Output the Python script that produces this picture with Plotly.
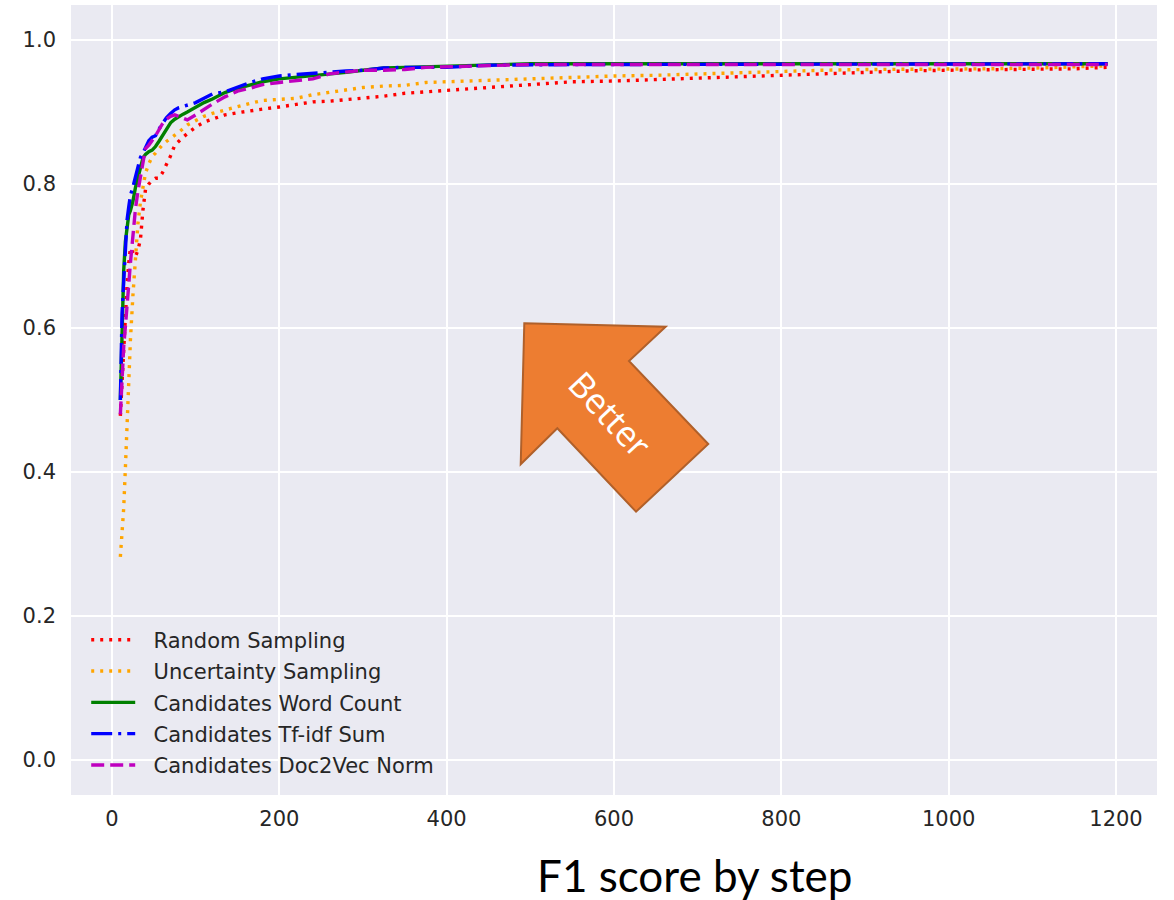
import plotly.graph_objects as go

# Labelling step (number of labelled documents) at which F1 was evaluated
steps = [10, 12, 14, 16, 18, 20, 22, 25, 28, 31, 34, 37, 40, 44, 48, 52, 56, 60, 65, 70,
         75, 80, 85, 90, 100, 110, 120, 135, 150, 165, 180, 200, 220, 240, 260, 280, 300,
         325, 350, 375, 400, 450, 500, 550, 600, 650, 700, 750, 800, 850, 900, 950, 1000,
         1050, 1100, 1150, 1190]

random_sampling = [0.478, 0.530, 0.580, 0.628, 0.660, 0.690, 0.711, 0.705, 0.699, 0.708,
                   0.723, 0.764, 0.792, 0.800, 0.805, 0.808, 0.808, 0.815, 0.826, 0.839,
                   0.854, 0.860, 0.865, 0.870, 0.879, 0.886, 0.890, 0.896, 0.899, 0.902,
                   0.904, 0.907, 0.910, 0.914, 0.915, 0.917, 0.920, 0.922, 0.926, 0.928,
                   0.931, 0.935, 0.939, 0.942, 0.943, 0.945, 0.947, 0.949, 0.951, 0.954,
                   0.956, 0.957, 0.958, 0.959, 0.959, 0.960, 0.962]

uncertainty_sampling = [0.282, 0.315, 0.350, 0.405, 0.470, 0.520, 0.583, 0.645, 0.700, 0.745,
                        0.775, 0.797, 0.815, 0.828, 0.838, 0.843, 0.849, 0.854, 0.859, 0.863,
                        0.867, 0.872, 0.877, 0.882, 0.888, 0.894, 0.898, 0.903, 0.907, 0.912,
                        0.916, 0.918, 0.919, 0.924, 0.927, 0.931, 0.934, 0.936, 0.937, 0.941,
                        0.942, 0.945, 0.947, 0.949, 0.950, 0.951, 0.953, 0.955, 0.956, 0.958,
                        0.959, 0.959, 0.959, 0.960, 0.961, 0.963, 0.964]

word_count = [0.500, 0.620, 0.680, 0.720, 0.742, 0.757, 0.763, 0.776, 0.795, 0.810,
              0.824, 0.836, 0.841, 0.845, 0.847, 0.852, 0.859, 0.867, 0.877, 0.885,
              0.890, 0.894, 0.897, 0.900, 0.907, 0.913, 0.918, 0.927, 0.933, 0.937,
              0.942, 0.946, 0.948, 0.951, 0.953, 0.955, 0.958, 0.961, 0.962, 0.963,
              0.963, 0.965, 0.967, 0.967, 0.967, 0.967, 0.966, 0.967, 0.967, 0.967,
              0.967, 0.967, 0.967, 0.967, 0.967, 0.967, 0.967]

tfidf_sum = [0.500, 0.620, 0.665, 0.704, 0.750, 0.768, 0.784, 0.796, 0.810, 0.824,
             0.837, 0.843, 0.850, 0.860, 0.865, 0.867, 0.876, 0.884, 0.892, 0.898,
             0.903, 0.906, 0.908, 0.910, 0.913, 0.919, 0.925, 0.928, 0.935, 0.941,
             0.946, 0.950, 0.952, 0.954, 0.955, 0.957, 0.958, 0.961, 0.962, 0.962,
             0.962, 0.965, 0.966, 0.966, 0.966, 0.966, 0.966, 0.966, 0.966, 0.966,
             0.967, 0.966, 0.966, 0.967, 0.966, 0.967, 0.967]

doc2vec_norm = [0.480, 0.530, 0.574, 0.602, 0.639, 0.660, 0.690, 0.730, 0.765, 0.790,
                0.812, 0.833, 0.849, 0.854, 0.860, 0.867, 0.875, 0.883, 0.890, 0.894,
                0.896, 0.894, 0.892, 0.889, 0.896, 0.904, 0.911, 0.921, 0.929, 0.933,
                0.938, 0.941, 0.944, 0.946, 0.953, 0.955, 0.958, 0.958, 0.959, 0.962,
                0.963, 0.965, 0.966, 0.966, 0.966, 0.966, 0.966, 0.966, 0.966, 0.966,
                0.966, 0.966, 0.966, 0.966, 0.966, 0.966, 0.966]

series = [
    ("Random Sampling", random_sampling, "red", "3px,6px"),
    ("Uncertainty Sampling", uncertainty_sampling, "orange", "3px,6px"),
    ("Candidates Word Count", word_count, "green", "solid"),
    ("Candidates Tf-idf Sum", tfidf_sum, "blue", "21px,6px,3px,6px"),
    ("Candidates Doc2Vec Norm", doc2vec_norm, "#BF00BF", "13px,6px"),
]

x_ticks = [0, 200, 400, 600, 800, 1000, 1200]
y_ticks = [0.0, 0.2, 0.4, 0.6, 0.8, 1.0]

fig = go.Figure()
for name, values, color, dash in series:
    fig.add_trace(go.Scatter(
        x=steps, y=values, mode="lines", legendgroup=name,
        # a little padding between the legend sample line and its label
        name="&nbsp;&nbsp;" + name,
        line=dict(color=color, width=3.4, dash=dash),
    ))

# Orange block arrow pointing to the upper-left ("better" direction)
arrow_path = ("M0.4174,0.5971 L0.5476,0.5928 L0.5138,0.5494 L0.5868,0.4443 "
              "L0.5203,0.3586 L0.4478,0.4642 L0.4141,0.4186 Z")
fig.add_shape(type="path", xref="paper", yref="paper", path=arrow_path,
              fillcolor="#ED7D31", line=dict(color="#B0602A", width=2), layer="above")

fig.add_annotation(x=0.4965, y=0.4830, xref="paper", yref="paper", text="Better",
                   showarrow=False, textangle=47,
                   font=dict(family="Open Sans", size=35, color="white"))

fig.add_annotation(x=0.5737, y=-0.101, xref="paper", yref="paper",
                   text="F1 score by step", showarrow=False,
                   xanchor="center", yanchor="middle",
                   font=dict(family="Lato", size=44, color="black"))

fig.update_layout(
    width=1174, height=900,
    margin=dict(l=71, r=17, t=5, b=105),
    paper_bgcolor="white", plot_bgcolor="#EAEAF2",
    font=dict(family="DejaVu Sans", size=21, color="#262626"),
    showlegend=True,
    legend=dict(x=0.014, y=0.222, xanchor="left", yanchor="top",
                bgcolor="rgba(0,0,0,0)", font=dict(size=21, color="#262626"),
                traceorder="grouped", tracegroupgap=1, itemwidth=44),
    xaxis=dict(range=[-49, 1249], tickvals=x_ticks, showgrid=True, gridcolor="white",
               gridwidth=2, zeroline=False, showline=False, ticks="",
               ticklabelstandoff=9),
    yaxis=dict(range=[-0.0486, 1.0486], tickvals=y_ticks, tickformat=".1f", showgrid=True,
               gridcolor="white", gridwidth=2, zeroline=False, showline=False, ticks="",
               ticklabelstandoff=14),
)

fig.write_html("out.html")
